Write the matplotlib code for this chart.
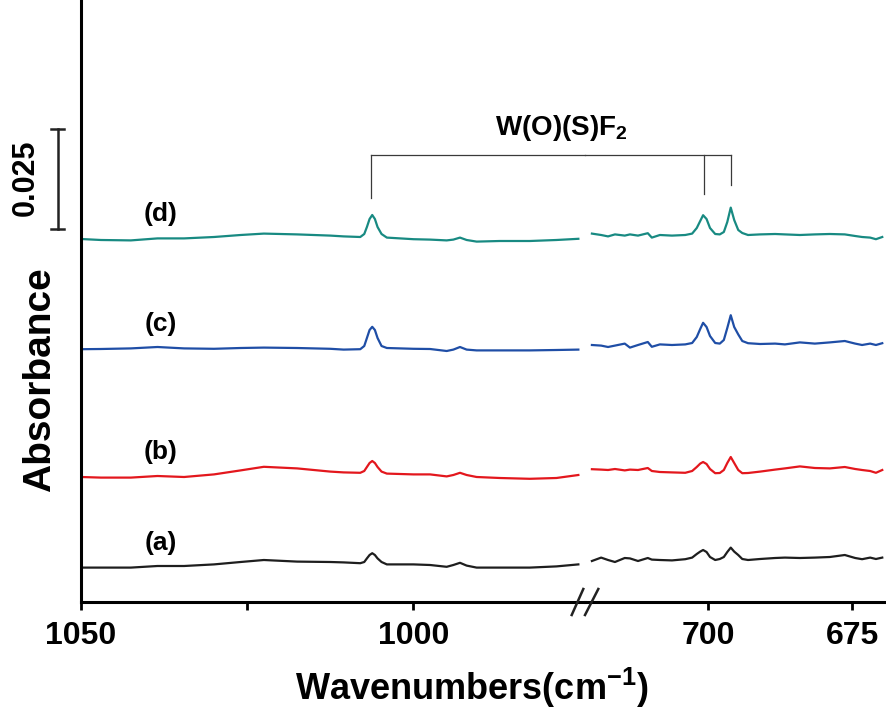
import numpy as np
import matplotlib.pyplot as plt
from matplotlib.lines import Line2D
import matplotlib.transforms as mtransforms

plt.rcParams['font.family'] = ['Liberation Sans', 'DejaVu Sans']
plt.rcParams['font.weight'] = 'bold'
plt.rcParams['mathtext.fontset'] = 'custom'
plt.rcParams['mathtext.rm'] = 'Liberation Sans:bold'
plt.rcParams['mathtext.bf'] = 'Liberation Sans:bold'
plt.rcParams['mathtext.default'] = 'rm'

# wavenumbers (cm-1) of the two plotted windows
left_wn = [1050, 1047, 1042.5, 1038.5, 1034.5, 1030, 1026, 1022.5, 1017.5, 1012.5,
           1010.5, 1008, 1007.4, 1007, 1006.6, 1006.2, 1005.8, 1005.4, 1004.8, 1004,
           1002, 1000, 997.5, 995, 994, 993, 992, 990.5, 987, 982.5, 978.5, 975.2]
right_wn = [720.2, 718.6, 717.4, 716.2, 714.5, 713.6, 712.2, 710.5, 709.8, 708.4,
            706.3, 704.0, 702.8, 702.0, 701.4, 700.9, 700.3, 699.7, 698.8, 698.0,
            697.3, 696.7, 696.1, 695.5, 694.8, 694.1, 693.1, 691.0, 688.4, 686.7,
            684.1, 681.5, 678.9, 676.3, 674.5, 673.3, 671.9, 670.9, 669.8]

# stacked absorbance, in units of 0.001
a_left = [8.6, 8.6, 8.6, 9.0, 9.0, 9.4, 10.0, 10.5, 10.1, 10.0, 9.9, 9.7, 10.0, 10.9,
          11.75, 12.2, 11.75, 10.9, 10.0, 9.4, 9.4, 9.4, 9.25, 8.8, 9.25, 9.8, 9.1,
          8.6, 8.6, 8.6, 8.9, 9.4]
a_right = [10.25, 11.1, 10.5, 10.0, 11.0, 10.9, 10.25, 11.0, 10.6, 10.5, 10.4, 10.7,
           11.1, 12.0, 12.6, 13.0, 12.5, 11.25, 10.5, 10.75, 11.25, 12.5, 13.6, 12.6,
           11.75, 10.75, 10.5, 10.75, 11.0, 11.1, 11.0, 11.1, 11.25, 11.75, 11.0, 10.7,
           11.1, 10.75, 11.1]
b_left = [31.25, 31.1, 31.1, 31.5, 31.25, 31.9, 32.9, 33.8, 33.4, 32.6, 32.4, 32.3,
          32.75, 33.75, 34.75, 35.25, 34.75, 33.75, 32.6, 32.1, 32.0, 31.9, 31.9, 31.4,
          31.75, 32.3, 31.75, 31.25, 31.0, 30.8, 31.0, 31.75]
b_right = [33.2, 33.1, 33.0, 33.25, 32.9, 33.1, 33.0, 33.5, 32.75, 32.5, 32.4, 32.3,
           32.75, 33.75, 34.6, 35.0, 34.5, 33.25, 32.2, 32.25, 33.0, 34.75, 36.25, 34.75,
           33.0, 32.2, 32.25, 32.6, 33.1, 33.4, 33.9, 33.5, 33.4, 33.75, 33.25, 33.0,
           32.75, 32.3, 33.0]
c_left = [63.2, 63.25, 63.4, 63.75, 63.4, 63.3, 63.5, 63.6, 63.5, 63.3, 63.1, 63.2,
          64.0, 66.0, 68.0, 68.8, 68.0, 66.0, 64.0, 63.5, 63.4, 63.3, 63.25, 62.75,
          63.1, 63.75, 63.1, 62.9, 62.9, 62.9, 63.0, 63.1]
c_right = [64.25, 64.1, 63.75, 64.1, 64.6, 63.6, 64.25, 65.0, 63.8, 64.4, 64.25, 64.4,
           64.75, 66.25, 68.25, 69.8, 68.75, 66.5, 64.75, 64.6, 65.5, 68.5, 71.7, 68.75,
           66.9, 65.25, 64.7, 64.5, 64.6, 64.4, 64.9, 64.6, 64.9, 65.25, 64.6, 64.25,
           64.6, 64.25, 64.7]
d_left = [90.75, 90.5, 90.4, 90.9, 90.9, 91.25, 91.75, 92.1, 91.9, 91.6, 91.4, 91.25,
          92.0, 93.75, 95.75, 96.75, 95.75, 93.75, 92.0, 91.1, 90.9, 90.7, 90.6, 90.4,
          90.6, 91.1, 90.5, 90.1, 90.25, 90.25, 90.5, 90.8]
d_right = [92.1, 91.75, 91.4, 91.9, 91.6, 91.9, 91.6, 92.2, 91.1, 91.75, 91.6, 91.75,
           92.1, 93.5, 95.25, 96.7, 95.75, 93.5, 92.0, 91.9, 92.5, 95.0, 98.6, 95.5,
           93.0, 92.25, 91.75, 91.9, 92.0, 91.9, 91.75, 91.9, 92.0, 91.9, 91.5, 91.25,
           91.1, 90.7, 91.25]

spectra = [('(a)', a_left, a_right, '#1e1e1e', 14.75),
           ('(b)', b_left, b_right, '#e3171d', 37.5),
           ('(c)', c_left, c_right, '#1f4ea6', 69.6),
           ('(d)', d_left, d_right, '#188a82', 97.0)]

# peak positions marked by the bracket
peak_left = 1006.4
peaks_right = [700.75, 696.05]

W, H = 886, 709
fig = plt.figure(figsize=(W / 100, H / 100), dpi=100)


def box(x0, x1):
    return [x0 / W, (H - 602) / H, (x1 - x0) / W, 602 / H]


ax1 = fig.add_axes(box(81, 585))
ax2 = fig.add_axes(box(585, 886), sharey=ax1)

for ax in (ax1, ax2):
    for s in ('top', 'right'):
        ax.spines[s].set_visible(False)
    for s in ('left', 'bottom'):
        ax.spines[s].set_linewidth(2.2)
    ax.tick_params(axis='x', direction='out', length=6, width=2, labelsize=23, pad=8)
    ax.tick_params(axis='y', left=False, labelleft=False)
    ax.patch.set_visible(False)
ax2.spines['left'].set_visible(False)

ax1.set_xlim(1050, 974.2)
ax2.set_xlim(721.4, 669.15)
ax1.set_ylim(0, 0.1505)
ax1.set_xticks([1050, 1025, 1000])
ax1.set_xticklabels(['1050', '', '1000'])
ax2.set_xticks([700, 675])
ax2.set_xticklabels(['700', '675'])

for lab, yl, yr, col, ly in spectra:
    ax1.plot(left_wn, np.array(yl) / 1000, color=col, lw=1.6, solid_joinstyle='round')
    ax2.plot(right_wn, np.array(yr) / 1000, color=col, lw=1.6, solid_joinstyle='round')
    ax1.text(1038.0, ly / 1000, lab, ha='center', va='center', fontsize=19)

# bracket for W(O)(S)F2 bands
yb = 0.11175
bc = '#3a3a3a'
ax1.plot([peak_left, peak_left], [0.1011, yb], color=bc, lw=0.9, clip_on=False)
ax1.plot([peak_left, 974.2], [yb, yb], color=bc, lw=0.9, clip_on=False)
ax2.plot([721.4, peaks_right[1]], [yb, yb], color=bc, lw=0.9, clip_on=False)
ax2.plot([peaks_right[0], peaks_right[0]], [0.1021, yb], color=bc, lw=0.9)
ax2.plot([peaks_right[1], peaks_right[1]], [0.10425, yb], color=bc, lw=0.9)
fig.text(561 / W, 1 - 128 / H, r'W(O)(S)F$_2$', ha='center', va='center', fontsize=20)

# 0.025 scale bar
tr = mtransforms.blended_transform_factory(ax1.transAxes, ax1.transData)
xb = -0.0462
ax1.plot([xb, xb], [0.0933, 0.1183], color='#222222', lw=1.8, transform=tr, clip_on=False)
for yy in (0.0933, 0.1183):
    ax1.plot([xb - 0.013, xb + 0.013], [yy, yy], color='#222222', lw=1.8,
             transform=tr, clip_on=False)
fig.text(26 / W, 1 - 178 / H, '0.025', rotation=90, ha='center', va='center', fontsize=22)

# axis break marks
for x0, x1 in ((571.7, 583.3), (585.0, 598.3)):
    fig.add_artist(Line2D([x0 / W, x1 / W], [1 - 615 / H, 1 - 589 / H],
                          color='#222222', lw=1.8, transform=fig.transFigure))

fig.text(40 / W, 1 - 380 / H, 'Absorbance', rotation=90, ha='center', va='center',
         fontsize=28)
fig.text(472 / W, 1 - 688 / H, r'Wavenumbers(cm$^{\mathregular{-1}}$)', ha='center',
         va='center', fontsize=26)

fig.savefig('out.png', dpi=100)
